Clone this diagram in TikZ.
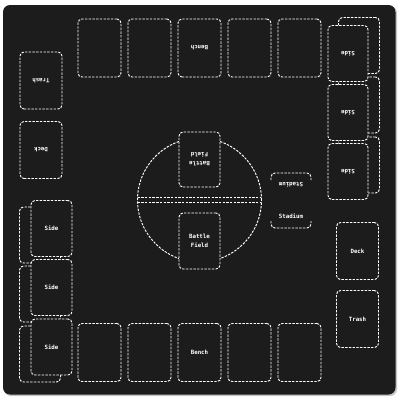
\documentclass[tikz,border=0pt]{standalone}
\usepackage{fontspec}
\setmonofont{DejaVu Sans Mono}
\definecolor{mat}{HTML}{1C1C1C}
\tikzset{
  dline/.style={draw=white, line width=0.95pt, dash pattern=on 2.4pt off 1.3pt},
  zone/.style={dline, fill=mat, rounded corners=4pt, inner sep=0pt, text=white,
    font=\fontsize{5.8}{9}\selectfont\ttfamily\bfseries, align=center},
  card/.style={zone, minimum width=42pt, minimum height=57pt},
  sidecard/.style={zone, minimum width=41pt, minimum height=56pt},
  lbl/.style={text=white, inner sep=0pt, font=\fontsize{5.8}{9}\selectfont\ttfamily\bfseries}
}
\begin{document}
\begin{tikzpicture}[x=1pt,y=-1pt]
\useasboundingbox (0,0) rectangle (400,400);
\fill[white] (0,0) rectangle (400,400);
% mat
\fill[gray!45, rounded corners=7pt] (4,6) rectangle (397,396);
\fill[mat, rounded corners=7pt] (3,5) rectangle (395.5,394.5);
% top bench (opponent)
\node[card, minimum width=43pt, minimum height=58pt] (tb1) at (99.5,48) {};
\node[card, minimum width=43pt, minimum height=58pt] (tb2) at (149.5,48) {};
\node[card, minimum width=43pt, minimum height=58pt, rotate=180] (tb3) at (199.5,48) {Bench};
\node[card, minimum width=43pt, minimum height=58pt] (tb4) at (249.5,48) {};
\node[card, minimum width=43pt, minimum height=58pt] (tb5) at (299.5,48) {};
% bottom bench
\node[card, minimum width=43pt, minimum height=58pt] (bb1) at (99.5,352.5) {};
\node[card, minimum width=43pt, minimum height=58pt] (bb2) at (149.5,352.5) {};
\node[card, minimum width=43pt, minimum height=58pt] (bb3) at (199.5,352.5) {Bench};
\node[card, minimum width=43pt, minimum height=58pt] (bb4) at (249.5,352.5) {};
\node[card, minimum width=43pt, minimum height=58pt] (bb5) at (299.5,352.5) {};
% left trash / deck (opponent)
\node[card, rotate=180] (ltrash) at (41,80.5) {Trash};
\node[card, rotate=180] (ldeck) at (41,150) {Deck};
% right deck / trash
\node[card] (rdeck) at (357.5,251) {Deck};
\node[card] (rtrash) at (357.5,319) {Trash};
% right side (opponent) back cards
\node[sidecard] (rsb1) at (359,45.5) {};
\node[sidecard] (rsb2) at (359,105) {};
\node[sidecard] (rsb3) at (359,165) {};
% right side front
\node[sidecard, minimum width=40pt, rotate=180] (rs1) at (348,53.5) {Side};
\node[sidecard, minimum width=40pt, rotate=180] (rs2) at (348,112.5) {Side};
\node[sidecard, minimum width=40pt, rotate=180] (rs3) at (348,171.5) {Side};
% left side back cards
\node[sidecard] (lsb1) at (40,235) {};
\node[sidecard] (lsb2) at (40,294) {};
\node[sidecard] (lsb3) at (40,354) {};
% left side front
\node[sidecard] (ls1) at (51.5,228.5) {Side};
\node[sidecard] (ls2) at (51.5,287.5) {Side};
\node[sidecard] (ls3) at (51.5,347) {Side};
% centre circle and line
\draw[dline] (199.5,200) circle (62pt);
\draw[dline] (137.6,197.5) -- (261.4,197.5);
\draw[dline] (137.6,202.5) -- (261.4,202.5);
% battle fields
\node[card, minimum width=41pt, minimum height=55pt, rotate=180] (bft) at (199.5,159.5) {Battle\\Field};
\node[card, minimum width=41pt, minimum height=56pt] (bfb) at (199.5,241) {Battle\\Field};
% stadium
\draw[dline, rounded corners=4pt] (271,180) -- (271,173) -- (311,173) -- (311,180);
\node[lbl, rotate=180] (stadt) at (291,184.5) {Stadium};
\draw[dline, rounded corners=4pt] (271,221) -- (271,228) -- (311,228) -- (311,221);
\node[lbl] (stadb) at (291,216.5) {Stadium};
\end{tikzpicture}
\end{document}
